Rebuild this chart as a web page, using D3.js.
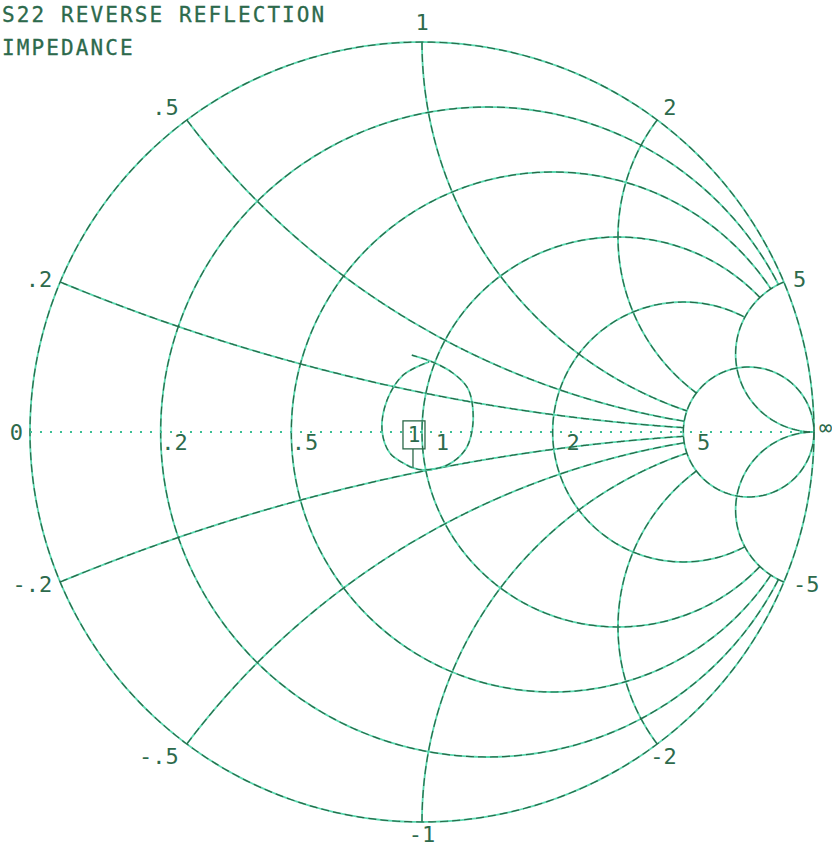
<!DOCTYPE html>
<html>
<head>
<meta charset="utf-8">
<script src="https://cdn.jsdelivr.net/npm/d3@7"></script>
<style>
  body { margin: 0; background: #fff; }
  text { font-family: "DejaVu Sans Mono", monospace; fill: #2d6a4c; }
</style>
</head>
<body>
<svg id="chart" width="832" height="846"></svg>
<script>
"use strict";

const titleLines = ["S22 REVERSE REFLECTION", "IMPEDANCE"];

// grid of the smith chart
const resistances = [0, 0.2, 0.5, 1, 2, 5];
const resistanceLabels = ["", ".2", ".5", "1", "2", "5"];
const reactances = [0.2, 0.5, 1, 2, 5, -0.2, -0.5, -1, -2, -5];
const reactanceLabels = [".2", ".5", "1", "2", "5", "-.2", "-.5", "-1", "-2", "-5"];
const axisLabels = ["0", "\u221e"];
const gridLimit = 5;

// measured S22 trace, as reflection coefficient
const traceRe = [-0.026, 0.028, 0.079, 0.115, 0.128, 0.128, 0.110, 0.064, 0.003, -0.023, -0.038, -0.082, -0.102, -0.089, -0.048, 0.018];
const traceIm = [0.197, 0.179, 0.151, 0.115, 0.074, 0.005, -0.046, -0.085, -0.097, -0.092, -0.085, -0.054, 0.005, 0.082, 0.146, 0.180];
const markerIndex = 9;
const markerLabel = "1";

const svg = d3.select("#chart");
const x = d3.scaleLinear().domain([-1, 1]).range([30, 814]);
const y = d3.scaleLinear().domain([-1, 1]).range([822, 42]);

// z = r + jX  ->  gamma
function gamma(r, X) {
  const d = (r + 1) * (r + 1) + X * X;
  return [(r * r - 1 + X * X) / d, 2 * X / d];
}

const line = d3.line().x(d => x(d[0])).y(d => y(d[1]));
const N = 500;
function sweep(a, b) {
  return d3.range(N + 1).map(i => a + (b - a) * i / N);
}

function resistancePath(r) {
  const lim = r >= gridLimit || r == 0 ? Math.PI / 2 - 1e-6 : Math.atan(gridLimit);
  return line(sweep(-lim, lim).map(u => gamma(r, Math.tan(u))));
}
function reactancePath(X) {
  const lim = Math.abs(X) >= gridLimit ? Math.PI / 2 - 1e-6 : Math.atan(gridLimit);
  return line(sweep(0, lim).map(u => gamma(Math.tan(u), X)));
}

const grid = svg.append("g");
const paths = resistances.map(resistancePath).concat(reactances.map(reactancePath));

// plotter look: light teal under a dark dashed pen
grid.selectAll("path.under").data(paths).enter().append("path")
  .attr("class", "under")
  .attr("d", d => d)
  .attr("fill", "none")
  .attr("stroke", "#5ad8b0")
  .attr("stroke-width", 1.8);
grid.selectAll("path.pen").data(paths).enter().append("path")
  .attr("class", "pen")
  .attr("d", d => d)
  .attr("fill", "none")
  .attr("stroke", "#2b6848")
  .attr("stroke-width", 1.2)
  .attr("stroke-dasharray", "8,4");

// real axis, dotted
const a0 = gamma(0, 0), a1 = gamma(1e9, 0);
svg.append("line")
  .attr("x1", x(a0[0])).attr("y1", y(a0[1]))
  .attr("x2", x(a1[0])).attr("y2", y(a1[1]))
  .attr("stroke", "#3cbf95")
  .attr("stroke-width", 2)
  .attr("stroke-dasharray", "2,8");

// trace
const trace = traceRe.map((v, i) => [v, traceIm[i]]);
const traceLine = d3.line().x(d => x(d[0])).y(d => y(d[1])).curve(d3.curveCatmullRom);
svg.append("path")
  .attr("d", traceLine(trace))
  .attr("fill", "none")
  .attr("stroke", "#5ad8b0")
  .attr("stroke-width", 1.8);
svg.append("path")
  .attr("d", traceLine(trace))
  .attr("fill", "none")
  .attr("stroke", "#2b6848")
  .attr("stroke-width", 1.2)
  .attr("stroke-dasharray", "6,4");

// marker
const mk = trace[markerIndex];
const mx = x(mk[0]), my = y(mk[1]);
const mg = svg.append("g").attr("stroke", "#2b6848").attr("fill", "none").attr("stroke-width", 1.3);
mg.append("line").attr("x1", mx).attr("x2", mx).attr("y1", my).attr("y2", my - 19);
mg.append("rect").attr("x", mx - 10).attr("y", my - 47).attr("width", 22).attr("height", 28);
svg.append("text")
  .attr("x", mx + 1).attr("y", my - 26)
  .attr("text-anchor", "middle")
  .attr("font-size", 21)
  .text(markerLabel);

// title
svg.selectAll("text.title").data(titleLines).enter().append("text")
  .attr("class", "title")
  .attr("x", 2)
  .attr("y", (d, i) => 22 + i * 33)
  .attr("font-size", 21)
  .attr("letter-spacing", 2.1)
  .attr("stroke", "#2d6a4c")
  .attr("stroke-width", 0.3)
  .text(d => d);

// resistance labels along the real axis
svg.selectAll("text.rlab").data(resistances.filter(r => r > 0)).enter().append("text")
  .attr("class", "rlab")
  .attr("x", r => x(gamma(r, 0)[0]) + 27)
  .attr("y", r => y(gamma(r, 0)[1]) + 18)
  .attr("text-anchor", "end")
  .attr("font-size", 22)
  .text(r => resistanceLabels[resistances.indexOf(r)]);

svg.append("text")
  .attr("x", x(a0[0]) - 7).attr("y", y(a0[1]) + 8)
  .attr("text-anchor", "end").attr("font-size", 22)
  .text(axisLabels[0]);
svg.append("text")
  .attr("x", x(a1[0]) + 5).attr("y", y(a1[1]) + 3)
  .attr("text-anchor", "start").attr("font-size", 22)
  .text(axisLabels[1]);

// reactance labels round the rim
svg.selectAll("text.xlab").data(reactances).enter().append("text")
  .attr("class", "xlab")
  .attr("font-size", 22)
  .attr("dominant-baseline", "central")
  .each(function(X, i) {
    const g = gamma(0, X);
    const lab = reactanceLabels[i];
    const s = g[1];
    let px = x(g[0]), py = y(g[1]);
    let dy = s > 0 ? -20 * s * s : Math.min(20 * s * s, 12);
    let anchor = "middle";
    if (g[0] < -0.3) { anchor = "end"; px -= 8; }
    else if (g[0] > 0.3) {
      anchor = "start";
      px += 10 * g[0];
      if (lab[0] == "-" && g[0] < 0.8) px -= 13;
    }
    d3.select(this)
      .attr("x", px)
      .attr("y", py + dy)
      .attr("text-anchor", anchor)
      .text(lab);
  });
</script>
</body>
</html>
